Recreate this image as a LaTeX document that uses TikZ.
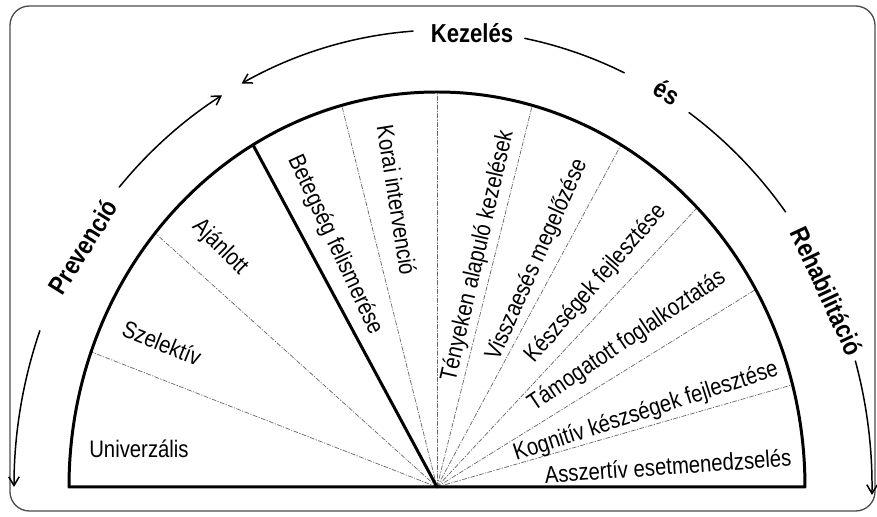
\documentclass[tikz,border=0pt]{standalone}
\usepackage{fontspec}
\setmainfont{Liberation Sans}[FakeStretch=0.85]
\usetikzlibrary{arrows.meta}
\begin{document}
\begin{tikzpicture}[x=0.02cm,y=0.02cm,line cap=round,line join=round,
  >={Straight Barb[length=5pt,width=6pt]},
  lbl/.style={font=\fontsize{13.6}{16}\selectfont,inner sep=0pt},
  phase/.style={font=\bfseries\fontsize{14.8}{17}\selectfont,inner sep=0pt},
  divider/.style={thin,black!60,dash pattern=on 2.5pt off 1pt on .5pt off 1pt},
  flow/.style={line width=.85pt}]
\useasboundingbox (-437,-30) rectangle (440,487);
\draw[line width=.75pt,black!70,rounded corners=11pt] (-427,-24) rectangle (438,481);
% half disc with sectors
\coordinate (O) at (0,0);
\foreach \a in {160,140,105,90,75,60,45,30,15}
\draw[divider] (O)--({368*cos(\a)},{395*sin(\a)});
\draw[line width=1.7pt] (O)--({368*cos(120)},{395*sin(120)});
\draw[line width=1.7pt] (-368,0) arc[start angle=180,end angle=0,x radius=368,y radius=395]--cycle;
% sector labels
\node[lbl] (univ) at (-298,38) {Univerzális};
\node[lbl,rotate=-22] (szel) at (-275,144) {Szelektív};
\node[lbl,rotate=-45] (ajan) at (-217,240) {Ajánlott};
\node[lbl,rotate=-65] (beteg) at (-102,242) {Betegség felismerése};
\node[lbl,rotate=-81] (korai) at (-40,287) {Korai intervenció};
\node[lbl,rotate=77] (teny) at (41,231) {Tényeken alapuló kezelések};
\node[lbl,rotate=66] (vissza) at (100,227) {Visszaesés megelőzése};
\node[lbl,rotate=49] (kesz) at (159,203) {Készségek fejlesztése};
\node[lbl,rotate=34] (tamog) at (190,146) {Támogatott foglalkoztatás};
\node[lbl,rotate=18] (kogn) at (209,75) {Kognitív készségek fejlesztése};
\node[lbl,rotate=4] (asszert) at (231,21) {Asszertív esetmenedzselés};
% outer ring
\node[phase] (kez) at (35,454) {Kezelés};
\node[phase,rotate=-30] (es) at (230,395) {és};
\node[phase,rotate=-65] (rehab) at (390,196) {Rehabilitáció};
\node[phase,rotate=58] (prev) at (-354,240) {Prevenció};
\foreach \s/\e in {94/118,139/121,160/180,16/-1}
\draw[flow,->] ({6+429*cos(\s)},{457*sin(\s)}) arc[start angle=\s,end angle=\e,x radius=429,y radius=457];
\foreach \s/\e in {79/65,55/37}
\draw[flow] ({6+429*cos(\s)},{457*sin(\s)}) arc[start angle=\s,end angle=\e,x radius=429,y radius=457];
\end{tikzpicture}
\end{document}
